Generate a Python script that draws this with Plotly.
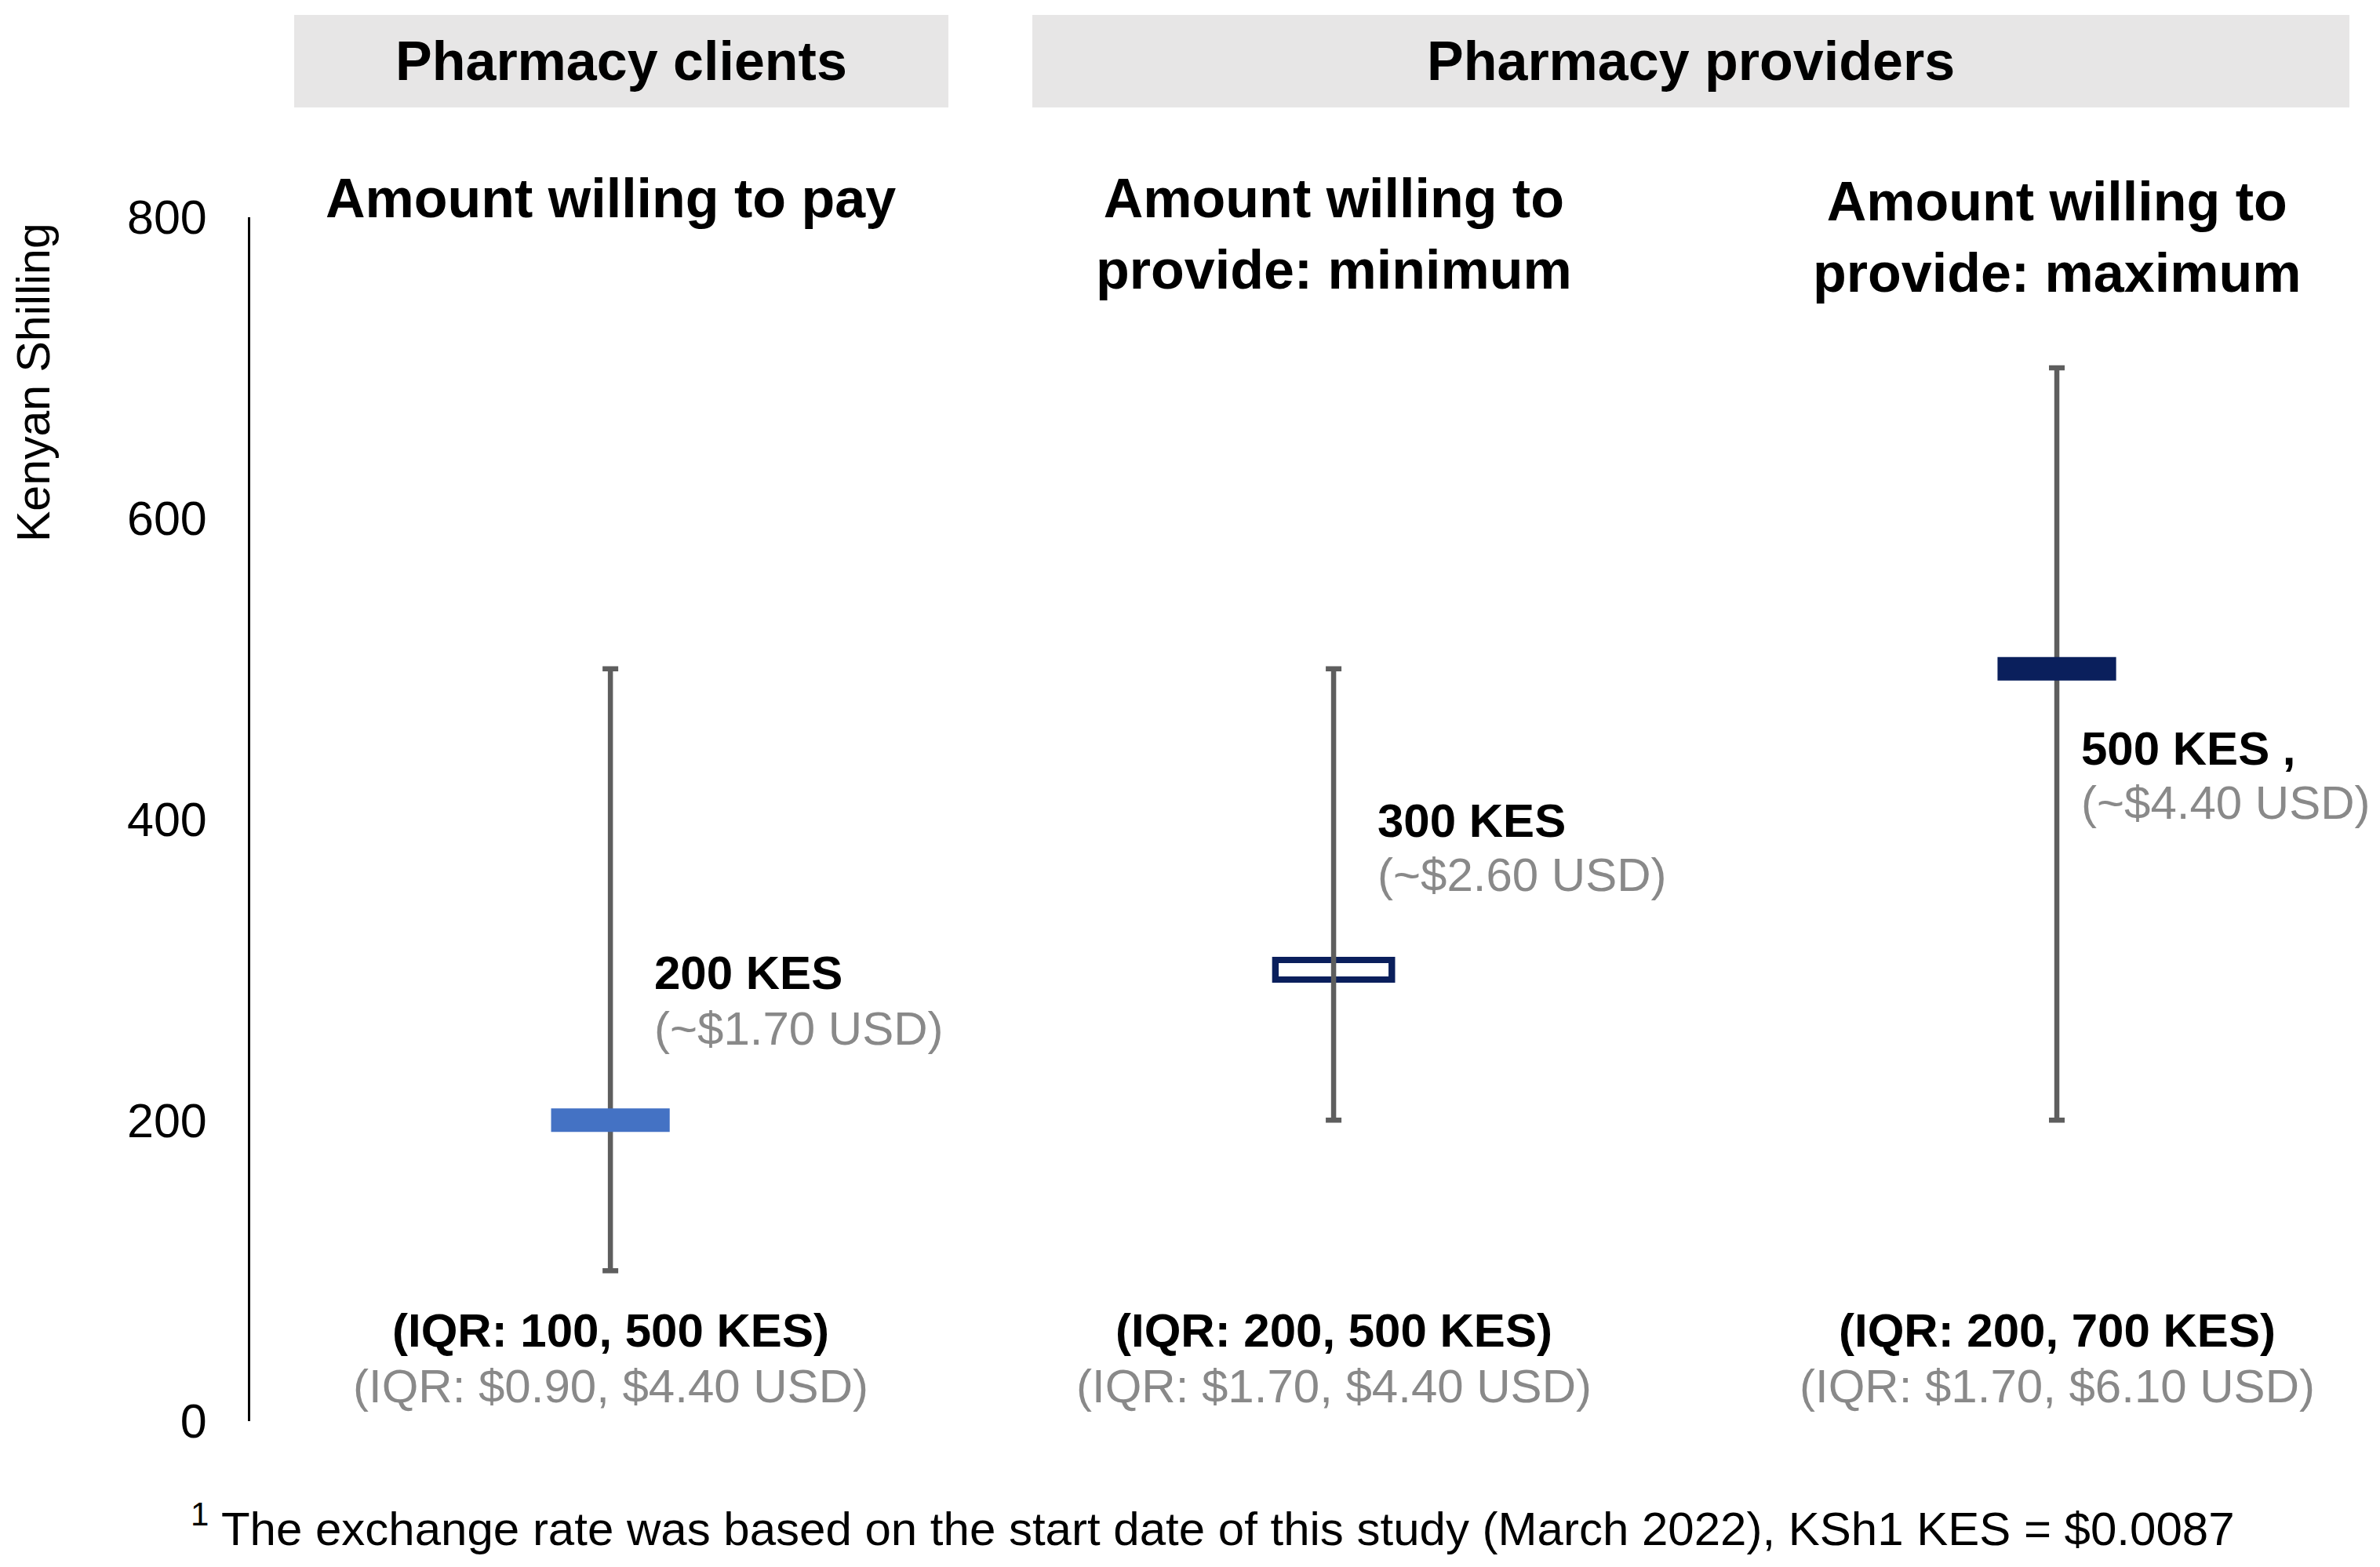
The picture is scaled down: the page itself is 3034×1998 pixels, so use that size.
import plotly.graph_objects as go

# ---------------- data ----------------
groups = ["Pharmacy clients", "Pharmacy providers"]
panels = ["Amount willing to pay",
          "Amount willing to<br>provide: minimum",
          "Amount willing to<br>provide: maximum"]
medians = [200, 300, 500]
iqr_low = [100, 200, 200]
iqr_high = [500, 500, 700]
median_kes_labels = ["200 KES", "300 KES", "500 KES ,"]
median_usd_labels = ["(~$1.70 USD)", "(~$2.60 USD)", "(~$4.40 USD)"]
iqr_kes_labels = ["(IQR: 100, 500 KES)", "(IQR: 200, 500 KES)", "(IQR: 200, 700 KES)"]
iqr_usd_labels = ["(IQR: $0.90, $4.40 USD)", "(IQR: $1.70, $4.40 USD)", "(IQR: $1.70, $6.10 USD)"]
y_ticks = [0, 200, 400, 600, 800]
footnote = "<sup>1</sup> The exchange rate was based on the start date of this study (March 2022), KSh1 KES = $0.0087"

# ---------------- layout geometry ----------------
W, H = 3034, 1998
OFF = 8  # page body margin
# desired plot-area edges in page pixels
PL, PR, PT, PB = 319, 3024, 277, 1812
ML = PL - OFF
MR = W - (PR - OFF)
MT = PT - OFF
MB = H - (PB - OFF)
PW, PH = PR - PL, PB - PT
FONT = "Liberation Sans, Arial, sans-serif"

def px(xp):
    return (xp - PL) / PW

def py(yp):
    return (PB - yp) / PH

xs = list(range(len(medians)))
fill_colors = ["#4472C4", None, "#0A1F5C"]  # None = hollow
NAVY = "#0A1F5C"
GRAY_BAR = "#5E5E5E"
GRAY_TXT = "#898989"

fig = go.Figure()

# hollow median marker (outline then white interior); line-ew length = 1.4*size
hx = [x for x, c in zip(xs, fill_colors) if c is None]
hy = [m for m, c in zip(medians, fill_colors) if c is None]
fig.add_trace(go.Scatter(
    x=hx, y=hy, mode="markers", hoverinfo="skip", showlegend=False,
    marker=dict(symbol="line-ew", size=112, color=NAVY,
                line=dict(width=33, color=NAVY))))
fig.add_trace(go.Scatter(
    x=hx, y=hy, mode="markers", hoverinfo="skip", showlegend=False,
    marker=dict(symbol="line-ew", size=100, color="white",
                line=dict(width=17, color="white"))))

# IQR whiskers
fig.add_trace(go.Scatter(
    x=xs, y=medians, mode="markers", showlegend=False,
    marker=dict(size=1, color="rgba(0,0,0,0)"),
    error_y=dict(type="data", symmetric=False,
                 array=[h - m for h, m in zip(iqr_high, medians)],
                 arrayminus=[m - l for m, l in zip(medians, iqr_low)],
                 color=GRAY_BAR, thickness=6.5, width=10)))

# filled median markers
for x, m, c in zip(xs, medians, fill_colors):
    if c is None:
        continue
    fig.add_trace(go.Scatter(
        x=[x], y=[m], mode="markers", hoverinfo="skip", showlegend=False,
        marker=dict(symbol="line-ew", size=108, color=c,
                    line=dict(width=30, color=c))))

annotations = []

# median labels
kes_y = [298, 399, 447]
usd_y = [261, 363, 411]
label_shift = [54, 54, 29]
for x, k, u, ky, uy, sh in zip(xs, median_kes_labels, median_usd_labels, kes_y, usd_y, label_shift):
    annotations.append(dict(x=x, y=ky, xref="x", yref="y", text="<b>" + k + "</b>",
                            showarrow=False, xanchor="left", yanchor="middle", xshift=sh,
                            font=dict(family=FONT, size=60, color="black")))
    annotations.append(dict(x=x, y=uy, xref="x", yref="y", text=u,
                            showarrow=False, xanchor="left", yanchor="middle", xshift=sh,
                            font=dict(family=FONT, size=60, color=GRAY_TXT)))

# IQR labels
for x, k, u in zip(xs, iqr_kes_labels, iqr_usd_labels):
    annotations.append(dict(x=x, y=60, xref="x", yref="y", text="<b>" + k + "</b>",
                            showarrow=False, xanchor="center", yanchor="middle",
                            font=dict(family=FONT, size=60, color="black")))
    annotations.append(dict(x=x, y=23, xref="x", yref="y", text=u,
                            showarrow=False, xanchor="center", yanchor="middle",
                            font=dict(family=FONT, size=60, color=GRAY_TXT)))

# panel titles (centre heights in page pixels)
panel_yp = [253, 298, 302]
for x, t, yp in zip(xs, panels, panel_yp):
    annotations.append(dict(x=x, y=py(yp), xref="x", yref="paper", text="<b>" + t + "</b>",
                            showarrow=False, xanchor="center", yanchor="middle",
                            font=dict(family=FONT, size=70, color="black")))

# group header boxes
boxes = [(375, 1209), (1316, 2995)]
shapes = []
for (x0, x1), g in zip(boxes, groups):
    shapes.append(dict(type="rect", xref="paper", yref="paper",
                       x0=px(x0), x1=px(x1), y0=py(137), y1=py(19),
                       fillcolor="#E7E6E6", line=dict(width=0), layer="below"))
    annotations.append(dict(x=px((x0 + x1) / 2), y=py(78), xref="paper", yref="paper",
                            text="<b>" + g + "</b>", showarrow=False,
                            xanchor="center", yanchor="middle",
                            font=dict(family=FONT, size=70, color="black")))

# y-axis title
annotations.append(dict(x=px(43), y=py(488), xref="paper", yref="paper",
                        text="Kenyan Shilling", textangle=-90, showarrow=False,
                        xanchor="center", yanchor="middle",
                        font=dict(family=FONT, size=59, color="black")))

# footnote
annotations.append(dict(x=px(1546), y=py(1945), xref="paper", yref="paper",
                        text=footnote, showarrow=False,
                        xanchor="center", yanchor="middle",
                        font=dict(family=FONT, size=60, color="black")))

fig.update_layout(
    width=W, height=H,
    margin=dict(l=ML, r=MR, t=MT, b=MB, pad=0),
    paper_bgcolor="white", plot_bgcolor="white",
    showlegend=False,
    annotations=annotations, shapes=shapes,
    xaxis=dict(visible=False, range=[-0.498, 2.436], fixedrange=True),
    yaxis=dict(range=[0, 800], tickvals=y_ticks, ticktext=[str(v) for v in y_ticks],
               showgrid=False, zeroline=False, showline=True, linecolor="black",
               linewidth=3, ticks="", ticklabelstandoff=40,
               tickfont=dict(family=FONT, size=61, color="black"), fixedrange=True),
)

fig.write_html("out.html")
